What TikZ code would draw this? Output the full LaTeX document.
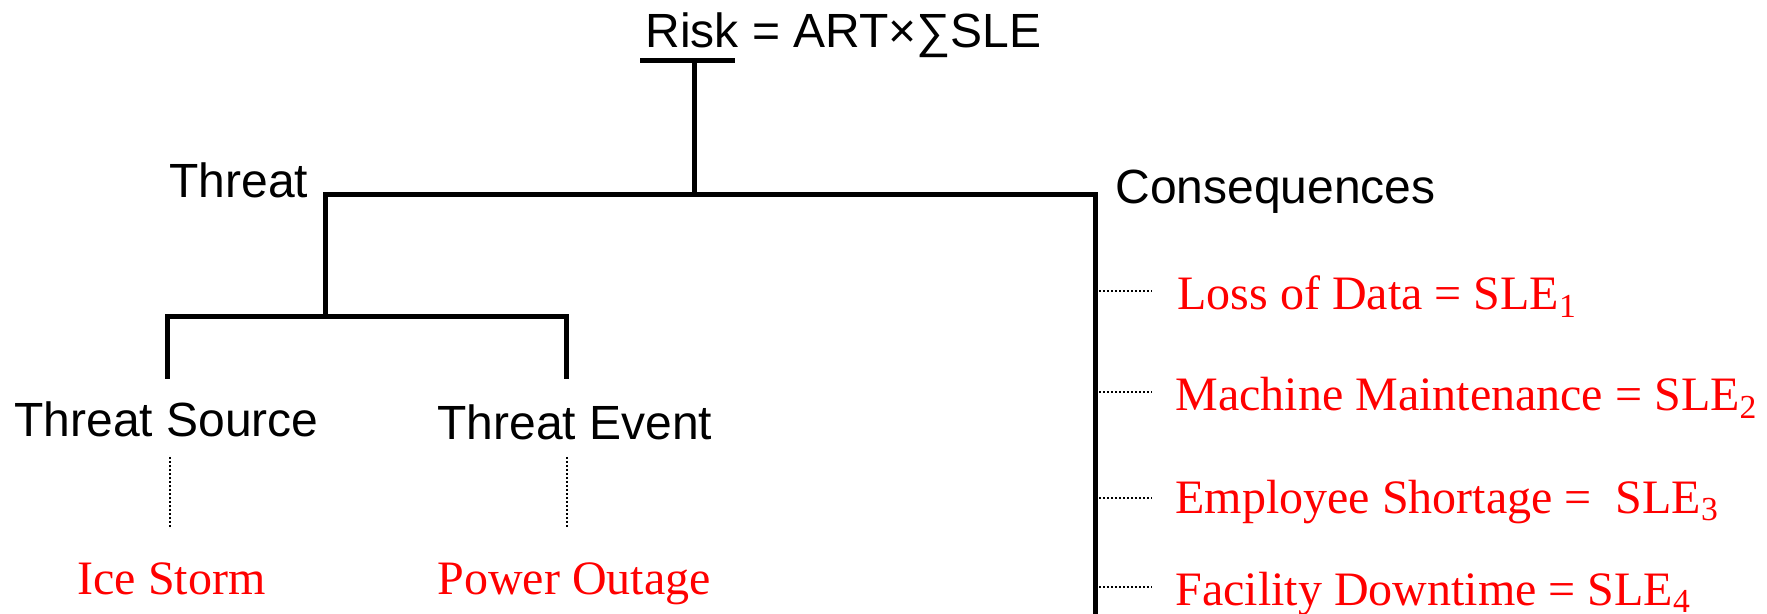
\documentclass[tikz,border=0pt]{standalone}
\usepackage{fontspec}
\setmainfont{Liberation Serif}
\setsansfont{Liberation Sans}
\usetikzlibrary{positioning}

\begin{document}
\begin{tikzpicture}[
  x=0.5pt, y=-0.5pt,
  lbl/.style={inner sep=0pt, anchor=base west,
              font=\sffamily\fontsize{24}{28}\selectfont},
  item/.style={inner sep=0pt, anchor=base west, text=red,
               font=\rmfamily\fontsize{24}{28}\selectfont},
  branch/.style={line width=2.5pt},
  link/.style={line width=1pt, dash pattern=on 1pt off 1pt}
]
  \useasboundingbox (0,0) rectangle (1767,614);

  % labels
  \node[lbl] (risk) at (645,48) {Risk = ART×∑SLE};
  \node[lbl] (threat) at (169,198) {Threat};
  \node[lbl] (cons) at (1115,204) {Consequences};
  \node[lbl] (src) at (14,437) {Threat Source};
  \node[lbl] (evt) at (437,440) {Threat Event};

  \node[item] (ice) at (77,594) {Ice Storm};
  \node[item] (pwr) at (437,594) {Power Outage};

  \node[item] (l1) at (1177,310) {Loss of Data = SLE\textsubscript{1}};
  \node[item] (l2) at (1175,411) {Machine Maintenance = SLE\textsubscript{2}};
  \node[item] (l3) at (1175,513) {Employee Shortage =~ SLE\textsubscript{3}};
  \node[item] (l4) at (1175,605) {Facility Downtime = SLE\textsubscript{4}};

  % tree
  \coordinate (barL) at (640,61);
  \coordinate (barR) at (735,61);
  \coordinate (top) at (694,61);
  \coordinate (hub) at (694,195);
  \coordinate (fork) at (325,195);
  \coordinate (corner) at (1095,195);
  \coordinate (spineEnd) at (1095,614);
  \coordinate (sub) at (325,317);
  \coordinate (srcTop) at (167,317);
  \coordinate (srcEnd) at (167,379);
  \coordinate (evtTop) at (566,317);
  \coordinate (evtEnd) at (566,379);

  \draw[branch] (barL) -- (barR);
  \draw[branch] (top) -- (hub);
  \draw[branch] (sub) -- (fork) -- (corner) -- (spineEnd);
  \draw[branch] (srcEnd) -- (srcTop) -- (evtTop) -- (evtEnd);

  % dotted links
  \draw[link, shorten <=9.5pt, shorten >=16.5pt] ([xshift=2pt]src.south) -- ([xshift=2pt]src.south |- ice.north);
  \draw[link, shorten <=8pt, shorten >=16.5pt] ([xshift=-4pt]evt.south) -- ([xshift=-4pt]evt.south |- pwr.north);

  \coordinate (k1) at (1099,291);
  \coordinate (k2) at (1099,392);
  \coordinate (k3) at (1099,498);
  \coordinate (k4) at (1099,587);
  \draw[link, shorten >=12.5pt] (k1) -- (k1 -| l1.west);
  \draw[link, shorten >=11.5pt] (k2) -- (k2 -| l2.west);
  \draw[link, shorten >=11.5pt] (k3) -- (k3 -| l3.west);
  \draw[link, shorten >=11.5pt] (k4) -- (k4 -| l4.west);
\end{tikzpicture}
\end{document}
